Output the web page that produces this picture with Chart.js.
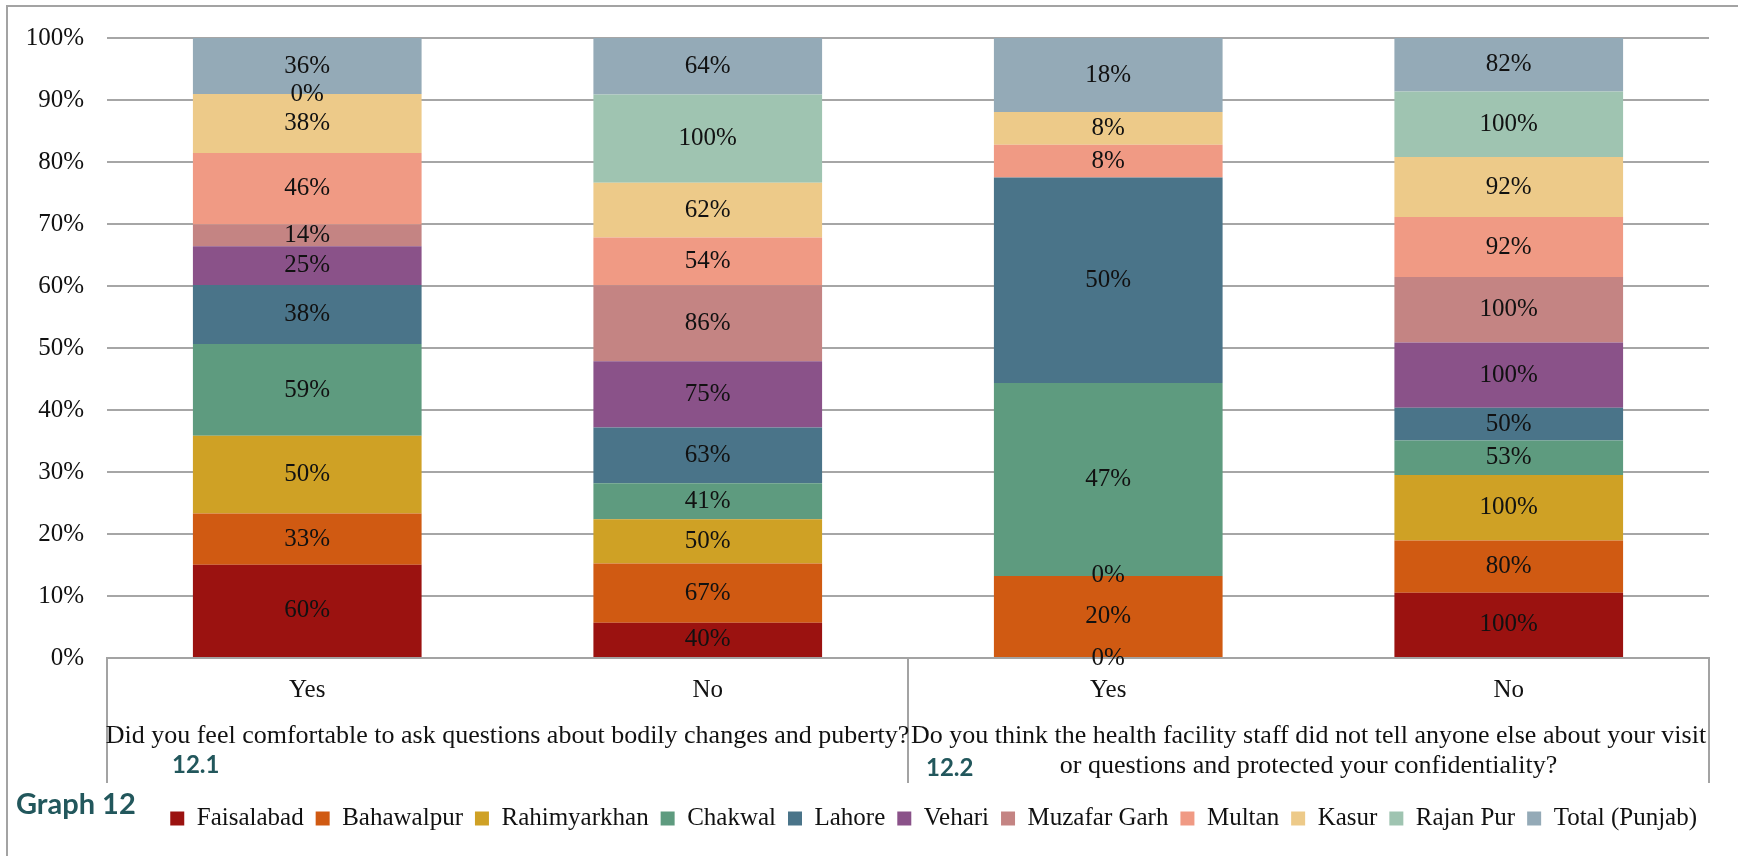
<!DOCTYPE html>
<html>
<head>
<meta charset="utf-8">
<script src="https://cdn.jsdelivr.net/npm/chart.js@4.4.1/dist/chart.umd.min.js"></script>
<style>
    html, body { margin: 0; padding: 0; background: #ffffff; }
    #frame { position: absolute; left: 6px; top: 5px; width: 1800px; height: 1000px; border: 2px solid #a3a3a3; }
    #wrap { position: absolute; left: 0; top: 0; width: 1738px; height: 856px; }
</style>
</head>
<body>
<div id="frame"></div>
<div id="wrap"><canvas id="graph12" width="1738" height="856"></canvas></div>
<script>
"use strict";

var categories = ["Yes", "No", "Yes", "No"];
var questions = [
    ["Did you feel comfortable to ask questions about bodily changes and puberty?"],
    ["Do you think the health facility staff did not tell anyone else about your visit",
     "or questions and protected your confidentiality?"]
];
var questionNumbers = ["12.1", "12.2"];
var graphTitle = "Graph 12";

var districts = ["Faisalabad", "Bahawalpur", "Rahimyarkhan", "Chakwal", "Lahore", "Vehari",
    "Muzafar Garh", "Multan", "Kasur", "Rajan Pur", "Total (Punjab)"];

// percent answering, per column (null = not reported)
var faisalabad   = [60, 40, 0, 100];
var bahawalpur   = [33, 67, 20, 80];
var rahimyarkhan = [50, 50, 0, 100];
var chakwal      = [59, 41, 47, 53];
var lahore       = [38, 63, 50, 50];
var vehari       = [25, 75, null, 100];
var muzafarGarh  = [14, 86, null, 100];
var multan       = [46, 54, 8, 92];
var kasur        = [38, 62, 8, 92];
var rajanPur     = [0, 100, null, 100];
var totalPunjab  = [36, 64, 18, 82];

var seriesValues = [faisalabad, bahawalpur, rahimyarkhan, chakwal, lahore, vehari,
    muzafarGarh, multan, kasur, rajanPur, totalPunjab];

var colors = ["#9b1210", "#d05a12", "#cfa125", "#5e9b7f", "#4a7489", "#8a5289",
    "#c48483", "#f09a84", "#edca89", "#9fc4b1", "#94aab7"];

var serif = "'Liberation Serif', 'Times New Roman', serif";
var sans = "Lato, 'Open Sans', sans-serif";

// each column is stacked to 100%
var columnTotals = categories.map(function(c, j)
{
    return seriesValues.reduce(function(sum, values)
    {
        return sum + (values[j] === null ? 0 : values[j]);
    }, 0);
});

var datasets = districts.map(function(name, i)
{
    return {
        label: name,
        rawValues: seriesValues[i],
        data: seriesValues[i].map(function(v, j)
        {
            return v === null ? null : v / columnTotals[j] * 100;
        }),
        backgroundColor: colors[i],
        borderWidth: 0,
        categoryPercentage: 1,
        barPercentage: 0.571
    };
});

var valueLabels =
{
    id: "valueLabels",
    afterDatasetsDraw: function(chart)
    {
        var ctx = chart.ctx;
        ctx.save();
        ctx.font = "25px " + serif;
        ctx.fillStyle = "#111111";
        ctx.textAlign = "center";
        ctx.textBaseline = "middle";
        chart.data.datasets.forEach(function(dataset, i)
        {
            var meta = chart.getDatasetMeta(i);
            meta.data.forEach(function(bar, j)
            {
                var raw = dataset.rawValues[j];
                if (raw === null)
                {
                    return;
                }
                ctx.fillText(raw + "%", bar.x, (bar.y + bar.base) / 2);
            });
        });
        ctx.restore();
    }
};

// second level of the category axis: question groups and their dividers
var groupAxis =
{
    id: "groupAxis",
    afterDraw: function(chart)
    {
        var ctx = chart.ctx;
        var area = chart.chartArea;
        var x = chart.scales.x;
        var split = (x.getPixelForValue(1) + x.getPixelForValue(2)) / 2;
        var lineBottom = area.bottom + 125;

        ctx.save();
        ctx.strokeStyle = "#a3a3a3";
        ctx.lineWidth = 2;
        [area.left, split, area.right].forEach(function(px)
        {
            ctx.beginPath();
            ctx.moveTo(px, area.bottom);
            ctx.lineTo(px, lineBottom);
            ctx.stroke();
        });

        ctx.font = "26px " + serif;
        ctx.fillStyle = "#111111";
        ctx.textAlign = "center";
        ctx.textBaseline = "middle";
        var centers = [(area.left + split) / 2, (split + area.right) / 2];
        questions.forEach(function(lines, g)
        {
            lines.forEach(function(line, k)
            {
                ctx.fillText(line, centers[g], area.bottom + 78 + k * 30);
            });
        });

        ctx.font = "bold 24px " + sans;
        ctx.fillStyle = "#22575c";
        ctx.textAlign = "left";
        ctx.fillText(questionNumbers[0], area.left + 65, area.bottom + 107);
        ctx.fillText(questionNumbers[1], split + 18, area.bottom + 110);

        ctx.font = "bold 29px " + sans;
        ctx.fillText(graphTitle, 16, area.bottom + 147);
        ctx.restore();
    }
};

var chart = new Chart(document.getElementById("graph12").getContext("2d"),
{
    type: "bar",
    data:
    {
        labels: categories,
        datasets: datasets
    },
    options:
    {
        responsive: false,
        animation: false,
        devicePixelRatio: 1,
        layout:
        {
            padding: { top: 35, right: 29, bottom: 15, left: 0 }
        },
        plugins:
        {
            tooltip: { enabled: false },
            legend:
            {
                position: "bottom",
                align: "end",
                labels:
                {
                    boxWidth: 14,
                    boxHeight: 14,
                    padding: 12,
                    color: "#111111",
                    font: { family: serif, size: 25 }
                }
            }
        },
        scales:
        {
            x:
            {
                stacked: true,
                afterFit: function(scale)
                {
                    scale.height = 136;
                },
                grid: { display: false, drawTicks: false },
                border: { display: true, color: "#a3a3a3", width: 2 },
                ticks:
                {
                    padding: 17,
                    color: "#111111",
                    font: { family: serif, size: 25 }
                }
            },
            y:
            {
                stacked: true,
                min: 0,
                max: 100,
                afterFit: function(scale)
                {
                    scale.width = 107;
                },
                grid: { color: "#a6a6a6", lineWidth: 2, drawTicks: false },
                border: { display: false },
                ticks:
                {
                    stepSize: 10,
                    padding: 23,
                    color: "#111111",
                    font: { family: serif, size: 25 },
                    callback: function(value)
                    {
                        return value + "%";
                    }
                }
            }
        }
    },
    plugins: [valueLabels, groupAxis]
});
</script>
</body>
</html>
